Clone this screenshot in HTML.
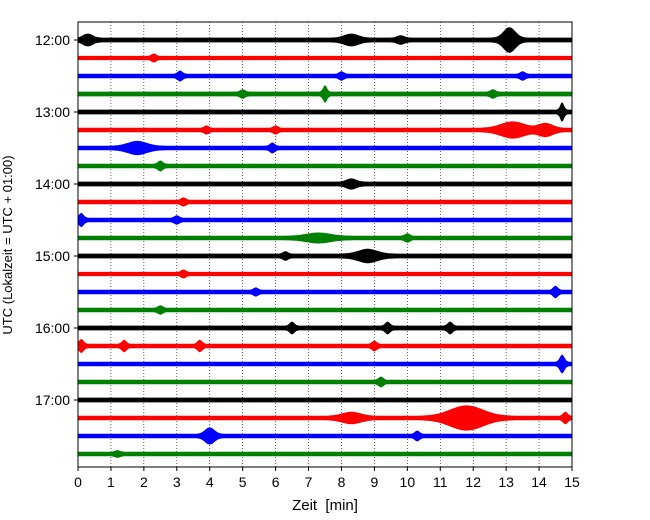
<!DOCTYPE html>
<html><head><meta charset="utf-8"><style>
body{margin:0;background:#fff;}
svg{display:block;font-family:"Liberation Sans","DejaVu Sans",sans-serif;}
</style></head><body>
<svg id="c" width="650" height="520"></svg>
<script>
const traceColors=["#000000","#ff0000","#0000ff","#008000"];
const hourLabels=["12:00","13:00","14:00","15:00","16:00","17:00"];
const xTicks=[0,1,2,3,4,5,6,7,8,9,10,11,12,13,14,15];
const baseAmp=[2.4,2.1,2.3,2.4,2.4,2.2,2.3,2.3,2.4,2.2,2.3,2.3,2.4,2.1,2.2,2.3,2.4,2.2,2.2,2.2,2.4,2.2,2.2,2.3];
const eventTrace=[0,0,0,0,1,2,2,2,3,3,3,4,5,5,5,5,6,6,7,8,9,10,10,11,11,12,12,13,14,14,15,16,16,16,17,17,17,17,18,19,21,21,21,22,22,23];
const eventTime=[0.3,8.3,13.1,9.8,2.3,3.1,8.0,13.5,7.5,5.0,12.6,14.7,13.2,14.2,3.9,6.0,1.8,5.9,2.5,8.3,3.2,0.1,3.0,7.3,10.0,8.8,6.3,3.2,14.5,5.4,2.5,6.5,9.4,11.3,0.1,1.4,3.7,9.0,14.7,9.2,11.8,8.3,14.8,4.0,10.3,1.2];
const eventAmp=[5,5,13,3,3,4,3,3,8,3,3,9,8,6,3,3,6,4,4,4,3,6,3,4,3,6,3,3,5,3,3,5,5,5,6,5,5,4,9,4,13,5,5,8,4,2];
const eventWidth=[0.2,0.3,0.25,0.15,0.1,0.1,0.1,0.1,0.08,0.1,0.1,0.08,0.5,0.3,0.1,0.1,0.4,0.1,0.1,0.2,0.1,0.1,0.1,0.5,0.1,0.4,0.1,0.1,0.1,0.1,0.1,0.1,0.1,0.1,0.1,0.1,0.1,0.1,0.1,0.1,0.7,0.4,0.1,0.2,0.1,0.1];

const svg=document.getElementById('c');
const NS='http://www.w3.org/2000/svg';
const L=78,R=572,T=22,B=467;
const xs=t=>L+(t/15)*(R-L);
const ys=i=>40+i*18;
function mk(tag,attrs,parent){const e=document.createElementNS(NS,tag);for(const k in attrs)e.setAttribute(k,attrs[k]);(parent||svg).appendChild(e);return e;}

xTicks.forEach(t=>{
  const g=mk('line',{x1:xs(t),x2:xs(t),y1:T,y2:B,stroke:'#000','stroke-width':0.6,'stroke-dasharray':'1,2'});
  
  
});
for(let i=0;i<baseAmp.length;i++){
  const top=[],bot=[];
  for(let t=0;t<=15.0001;t+=0.03){
    let a=baseAmp[i];
    for(let k=0;k<eventTrace.length;k++){
      if(eventTrace[k]!==i)continue;
      const d=(t-eventTime[k])/eventWidth[k];
      a+=0.8*eventAmp[k]*Math.exp(-d*d);
    }
    top.push(xs(t).toFixed(1)+','+(ys(i)-a).toFixed(1));
    bot.push(xs(t).toFixed(1)+','+(ys(i)+a).toFixed(1));
  }
  const p=mk('polygon',{points:top.concat(bot.reverse()).join(' '),fill:traceColors[i%4]});
  
  
}
const f=mk('rect',{x:L,y:T,width:R-L,height:B-T,fill:'none',stroke:'#000','stroke-width':1});


xTicks.forEach(t=>{
  mk('line',{x1:xs(t),x2:xs(t),y1:B,y2:B+4,stroke:'#000'});
  const tx=mk('text',{x:xs(t),y:B+20,'text-anchor':'middle','font-size':14});
  tx.textContent=t;
  
  
});
hourLabels.forEach((h,j)=>{
  const y=ys(j*4);
  mk('line',{x1:L-4,x2:L,y1:y,y2:y,stroke:'#000'});
  const tx=mk('text',{x:L-8,y:y+5,'text-anchor':'end','font-size':14});
  tx.textContent=h;
  
  
});
const xt=mk('text',{x:325,y:510,'text-anchor':'middle','font-size':15});
xt.textContent='Zeit \u00a0[min]';


const yt=mk('text',{x:0,y:0,'text-anchor':'middle','font-size':13,transform:'translate(12,245) rotate(-90)'});
yt.textContent='UTC (Lokalzeit = UTC + 01:00)';


</script>
</body></html>
